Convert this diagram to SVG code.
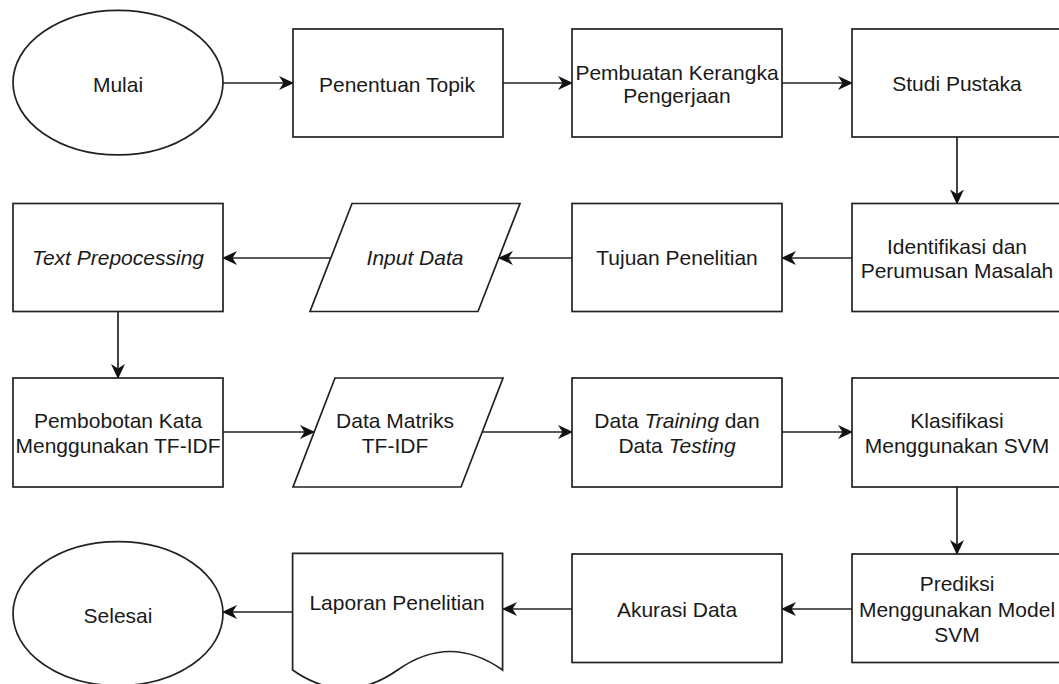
<svg xmlns="http://www.w3.org/2000/svg" width="1059" height="684" viewBox="0 0 1059 684">
<style>
.s{fill:#fff;stroke:#222;stroke-width:1.7}
.t{font-family:"Liberation Sans",Arial,sans-serif;font-size:21px;fill:#1a1a1a;text-anchor:middle}
.i{font-style:italic}
.c{fill:none;stroke:#222;stroke-width:1.7;marker-end:url(#ah)}
</style>
<defs>
<marker id="ah" markerUnits="userSpaceOnUse" viewBox="0 0 15 15" refX="14" refY="7.5" markerWidth="15" markerHeight="15" orient="auto">
<path d="M0,0.5 L15,7.5 L0,14.5 L4.5,7.5 Z" fill="#111"/>
</marker>
</defs>
<rect width="1059" height="684" fill="#fff"/>
<g id="connectors">
<line class="c" x1="223" y1="83" x2="293" y2="83"/>
<line class="c" x1="503" y1="83" x2="572" y2="83"/>
<line class="c" x1="782" y1="83" x2="852" y2="83"/>
<line class="c" x1="957" y1="137" x2="957" y2="203.5"/>
<line class="c" x1="852" y1="258" x2="782" y2="258"/>
<line class="c" x1="572" y1="258" x2="499" y2="258"/>
<line class="c" x1="331" y1="258" x2="223" y2="258"/>
<line class="c" x1="118" y1="311.5" x2="118" y2="378"/>
<line class="c" x1="223" y1="432" x2="314" y2="432"/>
<line class="c" x1="482" y1="432" x2="572" y2="432"/>
<line class="c" x1="782" y1="432" x2="852" y2="432"/>
<line class="c" x1="957" y1="487" x2="957" y2="554"/>
<line class="c" x1="852" y1="609" x2="782" y2="609"/>
<line class="c" x1="572" y1="609" x2="503" y2="609"/>
<line class="c" x1="293" y1="612" x2="223" y2="612"/>
</g>
<g id="mulai"><ellipse class="s" cx="118" cy="82.6" rx="105" ry="72.3"/><text class="t" x="118" y="92">Mulai</text></g>
<g id="penentuan"><rect class="s" x="293" y="29" width="210" height="108"/><text class="t" x="397" y="92">Penentuan Topik</text></g>
<g id="pembuatan"><rect class="s" x="572" y="29" width="210" height="108"/><text class="t" x="677" y="80">Pembuatan Kerangka</text><text class="t" x="677" y="103">Pengerjaan</text></g>
<g id="studi"><rect class="s" x="852" y="29" width="210" height="108"/><text class="t" x="957" y="91">Studi Pustaka</text></g>
<g id="identifikasi"><rect class="s" x="852" y="203.5" width="210" height="108"/><text class="t" x="957" y="254">Identifikasi dan</text><text class="t" x="957" y="278">Perumusan Masalah</text></g>
<g id="tujuan"><rect class="s" x="572" y="203.5" width="210" height="108"/><text class="t" x="677" y="265">Tujuan Penelitian</text></g>
<g id="input"><polygon class="s" points="352,203.5 520,203.5 478,311.5 310,311.5"/><text class="t i" x="415" y="265">Input Data</text></g>
<g id="prepro"><rect class="s" x="13" y="203.5" width="210" height="108"/><text class="t i" x="118" y="265">Text Prepocessing</text></g>
<g id="pembobotan"><rect class="s" x="13" y="378" width="210" height="109"/><text class="t" x="118" y="428">Pembobotan Kata</text><text class="t" x="118" y="453">Menggunakan TF-IDF</text></g>
<g id="matriks"><polygon class="s" points="335,378 503,378 461,487 293,487"/><text class="t" x="395" y="428">Data Matriks</text><text class="t" x="395" y="453">TF-IDF</text></g>
<g id="training"><rect class="s" x="572" y="378" width="210" height="109"/><text class="t" x="677" y="428">Data <tspan class="i">Training</tspan> dan</text><text class="t" x="677" y="453">Data <tspan class="i">Testing</tspan></text></g>
<g id="klasifikasi"><rect class="s" x="852" y="378" width="210" height="109"/><text class="t" x="957" y="428">Klasifikasi</text><text class="t" x="957" y="453">Menggunakan SVM</text></g>
<g id="prediksi"><rect class="s" x="852" y="554" width="210" height="108.5"/><text class="t" x="957" y="591">Prediksi</text><text class="t" x="957" y="617">Menggunakan Model</text><text class="t" x="957" y="642">SVM</text></g>
<g id="akurasi"><rect class="s" x="572" y="554" width="210" height="108.5"/><text class="t" x="677" y="617">Akurasi Data</text></g>
<g id="laporan"><path class="s" d="M292.6,553.4 H502.6 V670 Q450,633 397.6,670 Q345.1,707 292.6,670 Z"/><text class="t" x="397" y="610">Laporan Penelitian</text></g>
<g id="selesai"><ellipse class="s" cx="118" cy="613.6" rx="105" ry="72"/><text class="t" x="118" y="623">Selesai</text></g>
</svg>
